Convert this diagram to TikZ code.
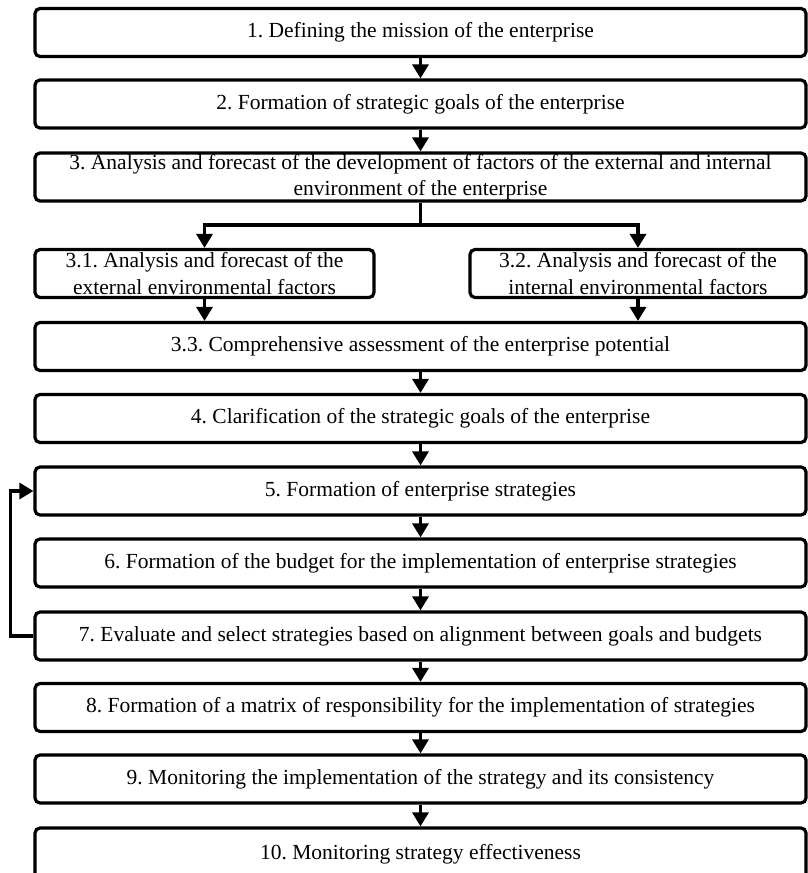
\documentclass[tikz,border=0pt]{standalone}
\usepackage{fontspec}
\setmainfont{Liberation Serif}
\usetikzlibrary{arrows.meta, calc, positioning}
\tikzset{>={Triangle[length=14pt,width=16pt]}}

\begin{document}
\frenchspacing
\begin{tikzpicture}[x=1pt, y=-1pt]
    \useasboundingbox (0,0) rectangle (808,873);
    \begin{scope}[every node/.style={rectangle, draw, line width=3.2pt,
                  rounded corners=5pt, inner sep=0pt, align=center,
                  minimum width=771pt, minimum height=48pt,
                  font=\fontsize{21.5}{26.5}\selectfont}]
      \node (S1) at (420.5,32.5) {1. Defining the mission of the enterprise};
      \node (S2) at (420.5,104) {2. Formation of strategic goals of the enterprise};
      \node (S3) at (420.5,177) {3. Analysis and forecast of the development of factors of the external and internal\\environment of the enterprise};
      \node[minimum width=339pt] (S31) at (204.5,273.5) {3.1. Analysis and forecast of the\\external environmental factors};
      \node[minimum width=336pt] (S32) at (638,273.5) {3.2. Analysis and forecast of the\\internal environmental factors};
      \node (S33) at (420.5,346.5) {3.3. Comprehensive assessment of the enterprise potential};
      \node (S4) at (420.5,418.5) {4. Clarification of the strategic goals of the enterprise};
      \node (S5) at (420.5,491) {5. Formation of enterprise strategies};
      \node (S6) at (420.5,563) {6. Formation of the budget for the implementation of enterprise strategies};
      \node (S7) at (420.5,636) {7. Evaluate and select strategies based on alignment between goals and budgets};
      \node (S8) at (420.5,707.5) {8. Formation of a matrix of responsibility for the implementation of strategies};
      \node (S9) at (420.5,779) {9. Monitoring the implementation of the strategy and its consistency};
      \node[minimum height=52pt] (S10) at (420.5,854) {10. Monitoring strategy effectiveness};
    \end{scope}
    \coordinate (fork) at (420.5,225);
    \begin{scope}[every edge/.style={draw=black, line width=3.2pt}]
      \path [->] (S1) edge (S2);
      \path [->] (S2) edge (S3);
      \path (S3) edge (fork);
      \path [->] (fork) edge[to path={-| (\tikztotarget)}] (S31);
      \path [->] (fork) edge[to path={-| (\tikztotarget)}] (S32);
      \path [->] (S31) edge (S31 |- S33.north);
      \path [->] (S32) edge (S32 |- S33.north);
      \path [->] (S33) edge (S4);
      \path [->] (S4) edge (S5);
      \path [->] (S5) edge (S6);
      \path [->] (S6) edge (S7);
      \path [->] (S7) edge (S8);
      \path [->] (S8) edge (S9);
      \path [->] (S9) edge (S10);
      % loop back from 7 to 5
      \path [->] (S7.west) edge[to path={-- ++(-23,0) |- (\tikztotarget)}] (S5.west);
    \end{scope}
\end{tikzpicture}
\end{document}
